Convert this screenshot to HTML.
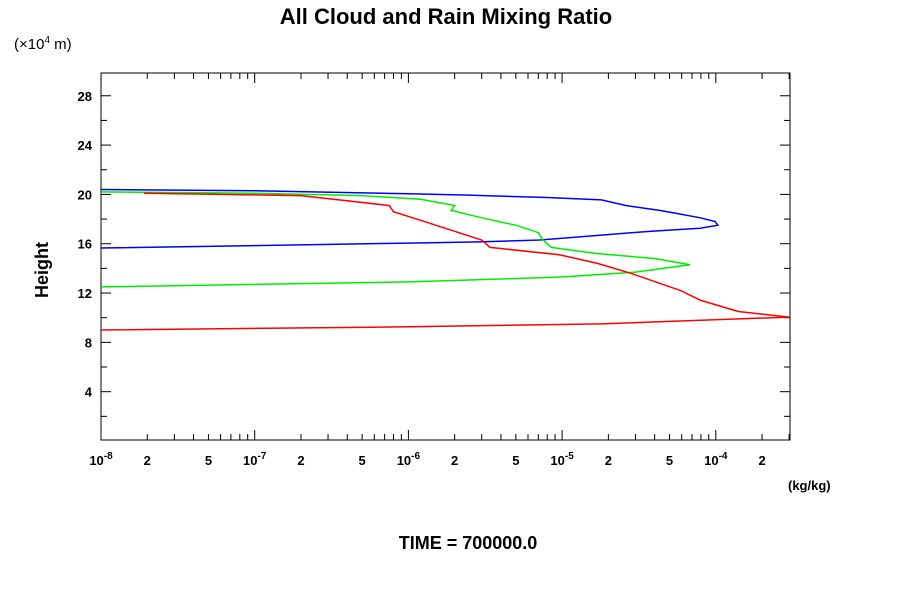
<!DOCTYPE html>
<html><head><meta charset="utf-8"><style>
body{margin:0;background:#fff;}
svg text{font-family:"Liberation Sans",sans-serif;}
</style></head><body>
<svg id="chart" width="900" height="600" xmlns="http://www.w3.org/2000/svg">
<rect x="0" y="0" width="900" height="600" fill="#fff"/>
<text x="446" y="24" text-anchor="middle" font-size="22" font-weight="bold">All Cloud and Rain Mixing Ratio</text>
<text x="14" y="49" font-size="15">(×10<tspan dy="-6" font-size="10">4</tspan><tspan dy="6"> m)</tspan></text>
<text x="48" y="270" text-anchor="middle" font-size="18" font-weight="bold" transform="rotate(-90 48 270)">Height</text>
<text x="788" y="490" font-size="13" font-weight="bold">(kg/kg)</text>
<text x="468" y="549" text-anchor="middle" font-size="18" font-weight="bold">TIME = 700000.0</text>
<rect x="101" y="73" width="689" height="367" fill="none" stroke="#000" stroke-width="1"/>
<g id="ticks"></g>
<g id="series"></g>
</svg>
<script>
const yTicks=[4,8,12,16,20,24,28];
const xDecades=[-8,-7,-6,-5,-4];
const blueVals=[1e-8,1e-7,1e-6,2.3e-6,8e-6,1.8e-5,2.6e-5,4.3e-5,5.9e-5,7.9e-5,9.9e-5,1.03e-4,7.9e-5,3.7e-5,1.8e-5,7.2e-6,2.9e-6,1e-6,1e-7,1e-8];
const blueH=[20.4,20.3,20.05,19.95,19.75,19.55,19.1,18.7,18.4,18.1,17.8,17.5,17.25,17.0,16.7,16.3,16.15,16.05,15.85,15.65];
const greenVals=[1e-8,1e-7,5e-7,1.2e-6,2e-6,1.9e-6,3e-6,5e-6,7e-6,7.5e-6,8.5e-6,1.7e-5,4e-5,6.8e-5,3e-5,1e-5,1e-6,1e-7,1e-8];
const greenH=[20.2,20.1,19.9,19.6,19.1,18.7,18.1,17.5,16.9,16.3,15.7,15.2,14.8,14.3,13.7,13.3,12.9,12.7,12.5];
const redVals=[1.9e-8,2e-7,7.5e-7,8e-7,1.2e-6,1.9e-6,3e-6,3.4e-6,9.6e-6,1.7e-5,2.8e-5,5.9e-5,8e-5,1.4e-4,3e-4,1.8e-5,8.8e-7,1e-8];
const redH=[20.1,19.9,19.1,18.6,17.9,17.1,16.3,15.7,15.1,14.4,13.6,12.2,11.4,10.5,10.05,9.5,9.25,9.0];
const NS="http://www.w3.org/2000/svg";
const X0=101,X1=790,Y0=441,decPx=153.7,hPx=12.33;
function xs(v){return X0+(Math.log10(v)+8)*decPx;}
function ys(h){return Y0-h*hPx;}
function mk(tag,attrs,parent){const e=document.createElementNS(NS,tag);for(const k in attrs)e.setAttribute(k,attrs[k]);parent.appendChild(e);return e;}
const tg=document.getElementById('ticks');
for(let h=2;h<30;h+=2){const y=ys(h);const major=h%4===0;
 const l=mk('line',{x1:X0,x2:X0+(major?10:6),y1:y,y2:y,stroke:'#000'},tg);
 
 const r=mk('line',{x1:X1,x2:X1-(major?10:6),y1:y,y2:y,stroke:'#000'},tg);
 }
yTicks.forEach(t=>{const e=mk('text',{x:92,y:ys(t)+5,'text-anchor':'end','font-size':13,'font-weight':'bold'},tg);e.textContent=t;
 });
xDecades.forEach(d=>{for(let m=1;m<10;m++){const v=m*Math.pow(10,d);const x=xs(v);if(x>X1+0.5)continue;
 const len=m===1?10:6;
 const a=mk('line',{x1:x,x2:x,y1:440,y2:440-len,stroke:'#000'},tg);
 const b=mk('line',{x1:x,x2:x,y1:73,y2:73+len,stroke:'#000'},tg);
 if(m===1){const t=mk('text',{x:x,y:465,'text-anchor':'middle','font-size':13,'font-weight':'bold'},tg);
  t.innerHTML='10<tspan dy="-6" font-size="10">'+d+'</tspan>';
  }
 else if(m===2||m===5){const t=mk('text',{x:x,y:465,'text-anchor':'middle','font-size':13,'font-weight':'bold'},tg);t.textContent=m;
  }
}});
const sg=document.getElementById('series');
function line(vals,hs,color,name){const pts=vals.map((v,i)=>xs(v).toFixed(1)+','+ys(hs[i]).toFixed(1)).join(' ');
 const p=mk('polyline',{points:pts,fill:'none',stroke:color,'stroke-width':1.5},sg);
 }
line(blueVals,blueH,'#0000ff','cloud-ice-line');
line(greenVals,greenH,'#00ee00','cloud-water-line');
line(redVals,redH,'#ff0000','rain-line');
</script>
</body></html>
